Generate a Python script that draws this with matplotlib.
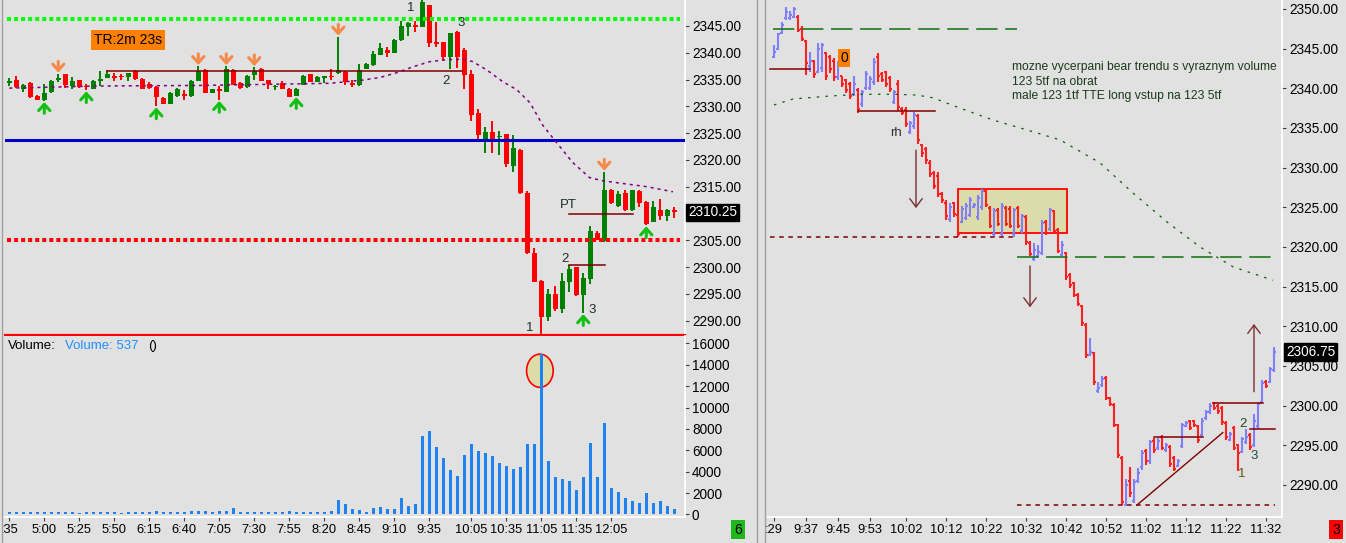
import matplotlib
matplotlib.use('Agg')
import matplotlib.pyplot as plt
from matplotlib.patches import Rectangle, Ellipse
from matplotlib.lines import Line2D
from matplotlib.transforms import blended_transform_factory

plt.rcParams['font.family'] = ['Liberation Sans', 'DejaVu Sans']

W, H = 1346, 543
BG = '#E1E1E1'
UP_C = '#008000'
DN_C = '#FF0000'
UP_B = '#8080FF'
DN_B = '#FF2020'
LEVEL = '#800000'
ARROW_BR = '#7A2E2E'
TXT = '#1E2E2E'

# ---------------------------------------------------------------- left chart
c_open = [2334.5, 2334.9, 2333.3, 2334.3, 2332.0, 2331.2, 2332.6, 2335.0, 2336.0, 2333.8,
          2334.9, 2333.8, 2333.3, 2334.7, 2335.3, 2335.6, 2335.7, 2335.4, 2336.6, 2335.1,
          2334.1, 2333.6, 2331.6, 2330.5, 2331.9, 2332.2, 2331.9, 2334.8, 2336.8, 2332.5,
          2333.3, 2332.7, 2336.8, 2334.4, 2333.6, 2335.9, 2337.0, 2334.9, 2333.6, 2334.4,
          2333.3, 2332.0, 2334.0, 2336.0, 2334.6, 2335.4, 2335.7, 2336.2, 2336.5, 2334.3,
          2333.9, 2337.0, 2337.7, 2339.6, 2340.5, 2340.0, 2342.3, 2344.9, 2345.1, 2344.9,
          2348.9, 2342.0, 2342.0, 2339.3, 2343.8, 2340.5, 2336.1, 2328.7, 2323.6, 2325.2,
          2324.3, 2324.8, 2318.8, 2321.9, 2313.9, 2302.6, 2297.4, 2290.6, 2294.9, 2292.2,
          2297.2, 2300.0, 2294.7, 2297.8, 2306.4, 2304.8, 2314.4, 2311.4, 2313.9, 2310.6,
          2314.2, 2312.1, 2308.5, 2310.7, 2309.5, 2310.6]
c_high = [2335.2, 2335.7, 2334.1, 2334.5, 2332.1, 2334.2, 2334.9, 2336.1, 2336.1, 2335.5,
          2335.0, 2334.2, 2334.9, 2336.6, 2336.8, 2336.2, 2336.0, 2336.3, 2336.7, 2335.2,
          2334.5, 2333.8, 2331.7, 2332.6, 2333.4, 2333.0, 2334.9, 2337.5, 2336.9, 2333.3,
          2333.8, 2337.5, 2336.9, 2334.5, 2335.9, 2337.3, 2337.1, 2335.0, 2334.0, 2334.8,
          2333.4, 2333.4, 2335.8, 2336.1, 2335.6, 2335.7, 2337.0, 2343.0, 2336.6, 2334.9,
          2337.9, 2338.0, 2340.4, 2341.9, 2341.1, 2342.5, 2345.9, 2345.7, 2345.9, 2349.9,
          2349.0, 2345.8, 2342.1, 2343.7, 2344.1, 2340.8, 2336.8, 2329.5, 2326.2, 2327.3,
          2325.4, 2324.9, 2324.7, 2322.0, 2314.2, 2303.6, 2297.5, 2295.9, 2296.4, 2298.8,
          2300.4, 2300.1, 2298.8, 2307.6, 2306.7, 2317.8, 2314.6, 2314.2, 2314.3, 2314.4,
          2314.3, 2312.4, 2312.3, 2312.7, 2310.8, 2311.2]
c_low = [2333.8, 2333.4, 2332.6, 2331.6, 2331.1, 2331.0, 2332.4, 2334.5, 2333.5, 2333.3,
         2333.5, 2333.0, 2333.2, 2333.8, 2335.2, 2334.8, 2335.0, 2334.7, 2335.0, 2333.2,
         2333.3, 2330.0, 2330.4, 2330.4, 2331.8, 2331.2, 2331.8, 2334.7, 2332.4, 2332.4,
         2331.2, 2332.6, 2333.9, 2333.3, 2333.5, 2335.0, 2334.7, 2333.3, 2333.0, 2333.2,
         2331.7, 2331.9, 2333.9, 2334.5, 2334.5, 2334.3, 2335.0, 2336.1, 2334.0, 2333.6,
         2333.8, 2336.9, 2337.6, 2339.5, 2339.2, 2339.9, 2342.2, 2343.1, 2343.8, 2344.8,
         2341.0, 2341.0, 2338.6, 2336.9, 2337.2, 2333.2, 2327.3, 2323.3, 2321.2, 2321.2,
         2321.0, 2318.6, 2317.8, 2313.7, 2302.5, 2297.2, 2287.4, 2290.0, 2291.8, 2291.5,
         2295.3, 2294.6, 2291.4, 2296.9, 2305.0, 2304.7, 2311.8, 2311.3, 2310.5, 2310.5,
         2311.2, 2307.8, 2308.4, 2308.7, 2308.6, 2309.2]
c_close = [2334.6, 2333.6, 2334.0, 2331.8, 2331.2, 2332.5, 2334.7, 2335.1, 2334.0, 2334.7,
           2333.6, 2333.6, 2334.7, 2335.1, 2336.0, 2335.4, 2335.5, 2336.2, 2335.1, 2333.3,
           2333.4, 2331.8, 2330.5, 2332.5, 2333.3, 2332.0, 2334.7, 2336.6, 2332.5, 2333.2,
           2332.9, 2337.0, 2334.0, 2333.4, 2335.7, 2336.6, 2334.8, 2334.2, 2333.8, 2333.3,
           2331.8, 2333.3, 2335.7, 2334.6, 2335.5, 2335.6, 2335.5, 2336.8, 2334.5, 2334.1,
           2336.8, 2337.9, 2339.8, 2340.9, 2339.9, 2342.4, 2345.0, 2345.6, 2344.9, 2349.4,
           2341.9, 2341.6, 2339.3, 2343.6, 2339.3, 2335.9, 2328.3, 2324.6, 2325.2, 2323.9,
           2324.4, 2319.2, 2322.3, 2313.8, 2302.6, 2297.3, 2290.6, 2294.9, 2292.1, 2297.4,
           2299.7, 2294.7, 2298.0, 2306.8, 2305.1, 2314.4, 2311.9, 2313.7, 2310.6, 2314.3,
           2311.9, 2308.0, 2311.3, 2309.6, 2310.7, 2310.2]
volume = [220, 280, 220, 190, 190, 220, 280, 220, 220, 220,
          160, 190, 190, 190, 190, 190, 160, 190, 190, 190,
          190, 340, 250, 190, 190, 220, 310, 340, 310, 250,
          310, 340, 590, 250, 250, 250, 280, 250, 220, 190,
          310, 280, 250, 220, 190, 190, 340, 1400, 1000, 470,
          410, 220, 590, 690, 500, 500, 1530, 840, 970, 7340,
          7810, 6310, 5310, 4160, 3630, 5560, 6590, 5940, 5720, 5470,
          4780, 4530, 4280, 4470, 6590, 6590, 15000, 5000, 3530, 3310,
          3120, 2280, 3500, 6690, 3500, 8560, 2470, 2090, 1530, 1250,
          1060, 2000, 1090, 1280, 780, 500]

left_tick_bars = [0, 5, 10, 15, 20, 25, 30, 35, 40, 45, 50, 55, 60, 66, 71, 76, 81, 86]
left_tick_labels = [':35', '5:00', '5:25', '5:50', '6:15', '6:40', '7:05', '7:30', '7:55',
                    '8:20', '8:45', '9:10', '9:35', '10:05', '10:35', '11:05', '11:35', '12:05']
left_price_ticks = [2290, 2295, 2300, 2305, 2315, 2320, 2325, 2330, 2335, 2340, 2345]

ma_left_bars = [0, 13, 27.2, 45.8, 50.5, 53, 55.4, 57.7, 60.1, 62.5, 64.8, 66.2, 68.2,
                70.5, 72.5, 74.4, 76.2, 78.2, 80.5, 82.9, 84.8, 88.2, 91.1, 94.8]
ma_left_vals = [2333.4, 2333.8, 2333.9, 2334.3, 2334.9, 2335.4, 2336.3, 2337.4, 2338.35,
                2338.7, 2338.8, 2338.35, 2336.8, 2334.6, 2333.1, 2330.65, 2326.5, 2323.2,
                2319.5, 2316.7, 2316.1, 2315.5, 2315.0, 2314.05]

sell_arrow_bars = [7, 27, 31, 35, 47, 85]
buy_arrow_bars = [5, 11, 21, 30, 41, 82, 91]

# --------------------------------------------------------------- right chart
r_open = [2344.0, 2345.0, 2347.0, 2348.8, 2348.8, 2349.0, 2349.0, 2347.5, 2346.0, 2342.8,
          2343.4, 2342.0, 2342.5, 2344.4, 2344.0, 2343.5, 2341.4, 2341.5, 2341.0, 2340.5,
          2339.3, 2339.8, 2338.0, 2340.0, 2340.0, 2340.8, 2344.0, 2341.8, 2342.0, 2341.3,
          2338.3, 2340.6, 2337.4, 2337.3, 2334.5, 2335.3, 2336.5, 2332.8, 2332.3, 2330.6,
          2329.3, 2329.0, 2326.7, 2325.6, 2323.5, 2325.5, 2324.0, 2323.2, 2323.6, 2324.0,
          2325.0, 2323.8, 2325.0, 2327.1, 2324.9, 2321.6, 2324.6, 2321.6, 2324.9, 2324.8,
          2321.6, 2324.9, 2322.0, 2323.8, 2320.5, 2318.5, 2318.8, 2319.3, 2323.2, 2322.3,
          2324.5, 2322.1, 2319.0, 2319.2, 2316.5, 2315.4, 2314.0, 2312.5, 2310.2, 2306.4,
          2306.6, 2301.8, 2302.6, 2303.5, 2301.0, 2300.1, 2297.5, 2293.4, 2287.5, 2290.5,
          2288.0, 2290.5, 2292.2, 2294.3, 2293.0, 2295.6, 2294.6, 2296.0, 2294.4, 2294.8,
          2293.4, 2292.4, 2294.9, 2297.4, 2298.0, 2298.0, 2297.4, 2296.3, 2298.4, 2299.2,
          2300.3, 2300.0, 2299.7, 2297.8, 2295.7, 2297.2, 2295.0, 2294.2, 2295.4, 2296.3,
          2295.0, 2297.4, 2300.5, 2303.0, 2303.0, 2304.5]
r_high = [2345.5, 2347.0, 2348.4, 2350.2, 2349.7, 2350.3, 2349.2, 2347.8, 2346.1, 2344.6,
          2343.6, 2345.7, 2345.7, 2344.6, 2344.2, 2343.8, 2343.4, 2341.6, 2341.2, 2340.8,
          2341.6, 2340.0, 2339.8, 2342.2, 2341.6, 2343.8, 2344.4, 2342.0, 2342.2, 2341.6,
          2339.8, 2341.0, 2337.6, 2337.6, 2335.9, 2337.0, 2336.8, 2333.0, 2332.6, 2330.9,
          2329.6, 2329.4, 2326.9, 2325.9, 2325.5, 2325.7, 2324.2, 2325.1, 2325.5, 2326.3,
          2325.5, 2326.6, 2327.3, 2327.3, 2325.1, 2324.9, 2324.9, 2325.5, 2325.1, 2325.1,
          2324.9, 2325.1, 2324.2, 2324.0, 2320.7, 2320.5, 2320.2, 2323.4, 2323.4, 2324.9,
          2324.7, 2322.4, 2320.7, 2319.4, 2316.7, 2315.6, 2314.2, 2312.7, 2310.4, 2308.5,
          2306.8, 2303.0, 2303.7, 2303.7, 2301.1, 2300.3, 2297.7, 2293.6, 2290.8, 2292.3,
          2290.8, 2292.1, 2294.4, 2294.5, 2295.7, 2295.9, 2295.9, 2296.3, 2295.3, 2295.0,
          2293.6, 2293.3, 2297.8, 2298.0, 2298.2, 2298.2, 2297.6, 2298.4, 2299.5, 2300.3,
          2300.4, 2300.2, 2299.9, 2298.0, 2296.7, 2297.4, 2295.2, 2296.1, 2297.0, 2296.5,
          2299.0, 2300.5, 2303.2, 2303.2, 2304.9, 2307.4]
r_low = [2343.8, 2344.8, 2346.9, 2348.6, 2348.6, 2348.8, 2347.1, 2345.9, 2341.7, 2342.1,
         2341.3, 2341.9, 2342.1, 2341.0, 2341.9, 2340.9, 2341.0, 2340.2, 2339.4, 2338.6,
         2339.0, 2336.9, 2337.7, 2339.8, 2339.8, 2340.4, 2340.8, 2340.8, 2340.2, 2339.5,
         2338.0, 2337.2, 2336.6, 2335.1, 2334.2, 2334.9, 2333.0, 2331.4, 2330.5, 2328.8,
         2327.3, 2326.3, 2325.5, 2323.4, 2323.2, 2323.8, 2321.3, 2323.0, 2323.4, 2323.8,
         2324.9, 2323.4, 2324.7, 2325.0, 2322.4, 2321.3, 2322.6, 2321.3, 2322.6, 2322.4,
         2321.3, 2322.4, 2321.7, 2320.3, 2318.8, 2318.2, 2318.6, 2319.0, 2321.5, 2322.0,
         2321.7, 2319.2, 2318.8, 2315.8, 2314.8, 2313.7, 2312.5, 2310.0, 2306.0, 2306.2,
         2302.6, 2301.6, 2302.4, 2300.7, 2299.9, 2297.3, 2293.4, 2287.5, 2287.3, 2288.5,
         2287.7, 2290.2, 2291.9, 2292.5, 2292.7, 2294.0, 2294.4, 2294.4, 2294.2, 2292.3,
         2291.7, 2292.3, 2294.6, 2297.3, 2296.9, 2297.3, 2295.3, 2296.1, 2298.2, 2299.0,
         2299.5, 2299.0, 2297.6, 2295.7, 2295.5, 2294.4, 2291.8, 2294.0, 2295.2, 2294.4,
         2294.8, 2297.1, 2300.3, 2302.2, 2302.8, 2304.3]
r_close = [2344.6, 2346.8, 2348.0, 2349.6, 2349.3, 2350.0, 2347.4, 2346.2, 2343.2, 2343.4,
           2341.8, 2345.0, 2345.5, 2341.5, 2342.4, 2341.4, 2343.0, 2340.6, 2339.8, 2339.0,
           2340.6, 2337.4, 2339.5, 2341.8, 2341.2, 2343.3, 2341.5, 2341.0, 2340.5, 2339.9,
           2339.5, 2337.6, 2336.9, 2335.5, 2335.6, 2336.6, 2333.5, 2331.8, 2330.9, 2329.2,
           2327.7, 2326.7, 2325.9, 2323.9, 2325.0, 2324.2, 2321.6, 2324.8, 2325.2, 2325.9,
           2325.3, 2326.2, 2327.0, 2325.3, 2322.7, 2324.5, 2322.9, 2325.1, 2322.9, 2322.6,
           2324.6, 2322.7, 2323.9, 2320.6, 2319.1, 2319.6, 2319.4, 2323.0, 2321.8, 2324.6,
           2322.0, 2319.5, 2320.2, 2316.2, 2315.2, 2314.0, 2312.8, 2310.4, 2306.4, 2306.8,
           2303.0, 2302.2, 2303.4, 2301.0, 2300.2, 2297.6, 2293.8, 2287.8, 2290.0, 2289.0,
           2290.4, 2291.5, 2294.0, 2293.0, 2295.4, 2294.4, 2295.5, 2294.7, 2295.0, 2292.7,
           2292.0, 2293.0, 2297.5, 2297.8, 2297.2, 2297.5, 2295.7, 2298.0, 2299.2, 2300.0,
           2299.7, 2299.3, 2297.9, 2296.0, 2296.4, 2294.7, 2294.0, 2295.8, 2296.0, 2294.8,
           2298.0, 2300.2, 2302.8, 2302.5, 2304.6, 2306.75]

ma_right_bars = [0, 4.75, 13.25, 21.5, 29.75, 35.75, 39.75, 46.5, 54.75, 63.25, 71.5,
                 81.5, 89.75, 98.25, 106.5, 114.75, 124.75]
ma_right_vals = [2337.9, 2338.65, 2339.0, 2339.25, 2339.25, 2339.15, 2338.8, 2337.5, 2336.0,
                 2334.75, 2333.5, 2330.6, 2326.8, 2323.15, 2320.0, 2317.5, 2315.8]

right_tick_bars = [0, 8, 16, 24, 33, 43, 53, 63, 73, 83, 93, 103, 113, 123]
right_tick_labels = [':29', '9:37', '9:45', '9:53', '10:02', '10:12', '10:22', '10:32',
                     '10:42', '10:52', '11:02', '11:12', '11:22', '11:32']
right_price_ticks = [2290, 2295, 2300, 2305, 2310, 2315, 2320, 2325, 2330, 2335, 2340,
                     2345, 2350]

note_lines = ['mozne vycerpani bear trendu s vyraznym volume',
              '123 5tf na obrat',
              'male 123 1tf TTE long vstup na 123 5tf']


def fbox(x0, y0, x1, y1):
    return [x0 / W, 1 - y1 / H, (x1 - x0) / W, (y1 - y0) / H]


def fxy(px, py):
    return px / W, 1 - py / H


def style(ax):
    ax.set_facecolor(BG)
    ax.spines['top'].set_visible(False)
    ax.spines['left'].set_visible(False)
    for s in ('right', 'bottom'):
        ax.spines[s].set_color('white')
        ax.spines[s].set_linewidth(1.3)
    ax.yaxis.tick_right()
    ax.tick_params(colors='#404040', labelcolor='black', labelsize=9.3,
                   length=3, width=0.8, pad=2)
    ax.tick_params(axis='y', labelsize=9.8)


def arrow(ax, x, y0, y1, color, lw, hl, hw, ms):
    ax.annotate('', xy=(x, y1), xytext=(x, y0),
                arrowprops=dict(arrowstyle='->,head_length=%s,head_width=%s' % (hl, hw),
                                color=color, lw=lw, shrinkA=0, shrinkB=0,
                                mutation_scale=ms),
                zorder=5)


def hline(ax, y, x0, x1, **kw):
    ax.plot([x0, x1], [y, y], **kw)


fig = plt.figure(figsize=(W / 100, H / 100), dpi=100, facecolor=BG)
ax_p = fig.add_axes(fbox(5, 0, 685, 336))
ax_v = fig.add_axes(fbox(5, 336, 685, 517), sharex=ax_p)
ax_r = fig.add_axes(fbox(768, 0, 1282, 517))
for ax in (ax_p, ax_v, ax_r):
    style(ax)
ax_p.spines['bottom'].set_visible(False)
ax_p.tick_params(axis='x', bottom=False, labelbottom=False)

# candles
n = len(c_open)
idx = list(range(n))
cols, bottoms, heights = [], [], []
for i in idx:
    o, h, l, c = c_open[i], c_high[i], c_low[i], c_close[i]
    col = UP_C if c >= o else DN_C
    cols.append(col)
    ax_p.vlines(i, l, h, color=col, lw=1.4, zorder=2)
    lo, hi = min(o, c), max(o, c)
    if hi - lo < 0.3:
        mid = (hi + lo) / 2
        lo, hi = mid - 0.15, mid + 0.15
    bottoms.append(lo)
    heights.append(hi - lo)
ax_p.bar(idx, heights, bottom=bottoms, width=0.74, color=cols, linewidth=0, zorder=2)

dots = (0, (1, 0.75))
hline(ax_p, 2346.3, -0.3, 95.8, color='#00FF00', lw=2.9, ls=dots, zorder=3)
hline(ax_p, 2323.75, -0.6, 96.5, color='#0000C8', lw=2.2, zorder=3)
hline(ax_p, 2305.0, -0.3, 95.8, color='#FF0000', lw=2.9, ls=dots, zorder=3)
hline(ax_p, 2287.25, -0.6, 96.5, color='#FF0000', lw=1.6, zorder=3, clip_on=False)
hline(ax_p, 2336.6, 13.96, 64.67, color=LEVEL, lw=1.1, zorder=3)
hline(ax_p, 2309.9, 80, 89.05, color=LEVEL, lw=1.1, zorder=3)
hline(ax_p, 2300.3, 80, 85.1, color=LEVEL, lw=1.1, zorder=3)
ax_p.plot(ma_left_bars, ma_left_vals, color='#800080', lw=1.1, ls=(0, (2, 2.6)), zorder=3)

for i in sell_arrow_bars:
    tip = c_high[i] + 0.2
    arrow(ax_p, i, tip + 2.1, tip, '#F58A4B', 2.2, 0.5, 0.45, 9)
for i in buy_arrow_bars:
    tip = c_low[i] - 0.2
    arrow(ax_p, i, tip - 2.1, tip, '#12C012', 2.2, 0.5, 0.45, 9)

for label, bx, py in [('1', 57.4, 2348.4), ('3', 64.5, 2345.6), ('2', 62.4, 2334.8),
                      ('1', 74.4, 2288.7), ('2', 79.4, 2301.5), ('3', 83.3, 2291.9),
                      ('PT', 79.8, 2311.5)]:
    ax_p.text(bx, py, label, fontsize=9.5, color=TXT, ha='center', va='center', zorder=6)

ax_p.set_xlim(-0.614, 96.53)
ax_p.set_ylim(2287.13, 2349.85)
ax_p.set_yticks(left_price_ticks)
ax_p.set_yticklabels(['%.2f' % v for v in left_price_ticks])

# volume
ax_v.add_patch(Ellipse((75.8, 13450), 3.8, 3100, facecolor='#DCDCA8',
                       edgecolor='#FF0000', lw=1.2, zorder=1))
ax_v.bar(idx, volume, width=0.36, color='#1E82F0', linewidth=0, zorder=2)
ax_v.set_ylim(-234, 16700)
ax_v.set_yticks(range(0, 16001, 2000))
ax_v.set_yticklabels([str(v) for v in range(0, 16001, 2000)])
ax_v.set_xticks(left_tick_bars)
ax_v.set_xticklabels(left_tick_labels)

tr = blended_transform_factory(ax_p.transAxes, ax_p.transData)
ax_p.text(1.0045, c_close[-1] + 0.05, '2310.25', transform=tr, color='white', fontsize=9.8,
          ha='left', va='center', bbox=dict(boxstyle='square,pad=0.12', fc='black', ec='black'))

# ---------------------------------------------------------------- right chart
m = len(r_open)
for j in range(m):
    o, h, l, c = r_open[j], r_high[j], r_low[j], r_close[j]
    col = UP_B if c >= o else DN_B
    ax_r.vlines(j, l, h, color=col, lw=1.5, zorder=2)
    ax_r.hlines(o, j - 0.45, j, color=col, lw=1.5, zorder=2)
    ax_r.hlines(c, j, j + 0.45, color=col, lw=1.5, zorder=2)

ax_r.add_patch(Rectangle((46.1, 2321.7), 27.1, 5.6, facecolor='#DCDCAA', edgecolor='#FF0000',
                         lw=1.3, zorder=1))
ax_r.plot(ma_right_bars, ma_right_vals, color='#0B5B0B', lw=0.9, ls=(0, (2, 5)), zorder=3)

long_dash = (0, (14, 5))
hline(ax_r, 2347.5, -0.25, 60.75, color='#107010', lw=1.1, ls=long_dash, zorder=3)
hline(ax_r, 2318.7, 60.7, 125.25, color='#107010', lw=1.1, ls=long_dash, zorder=3)
hline(ax_r, 2321.2, -1.0, 60.75, color=LEVEL, lw=1.1, ls=(0, (3, 3)), zorder=3)
hline(ax_r, 2287.45, 60.7, 125.25, color=LEVEL, lw=1.1, ls=(0, (3, 3)), zorder=3)
hline(ax_r, 2342.4, -1.0, 9.0, color=LEVEL, lw=1.1, zorder=3)
hline(ax_r, 2337.1, 21.0, 40.25, color=LEVEL, lw=1.1, zorder=3)
hline(ax_r, 2296.0, 95.0, 107.2, color=LEVEL, lw=1.1, zorder=3)
hline(ax_r, 2300.3, 110.0, 122.2, color=LEVEL, lw=1.1, zorder=3)
hline(ax_r, 2297.0, 119.0, 125.25, color=LEVEL, lw=1.1, zorder=3)
ax_r.plot([90.7, 112.2], [2287.45, 2296.6], color=LEVEL, lw=1.0, zorder=3)

arrow(ax_r, 35.5, 2332.2, 2324.9, ARROW_BR, 1.0, 0.6, 0.45, 10)
arrow(ax_r, 64.0, 2317.6, 2312.4, ARROW_BR, 1.0, 0.6, 0.45, 10)
arrow(ax_r, 120.0, 2301.75, 2310.3, ARROW_BR, 1.0, 0.6, 0.45, 10)

ax_r.text(17.6, 2343.8, '0', fontsize=10, color='black', ha='center', va='center', zorder=6,
          bbox=dict(boxstyle='square,pad=0.15', fc='#FF8000', ec='none'))
ax_r.text(30.5, 2334.4, 'rh', fontsize=9.5, color='#303030', ha='center', va='center')
for label, bx, py, col in [('1', 117.0, 2291.4, '#5A5A10'), ('2', 117.2, 2297.7, '#1E4A1E'),
                           ('3', 120.1, 2293.7, '#1E4A4A')]:
    ax_r.text(bx, py, label, fontsize=9.5, color=col, ha='center', va='center')
for k, line in enumerate(note_lines):
    ax_r.text(59.5, 2342.7 - 1.85 * k, line, fontsize=8.7, color='#1C3A1C',
              ha='left', va='center')

ax_r.set_xlim(-1.5, 127)
ax_r.set_ylim(2285.96, 2351.13)
ax_r.set_yticks(right_price_ticks)
ax_r.set_yticklabels(['%.2f' % v for v in right_price_ticks])
ax_r.set_xticks(right_tick_bars)
ax_r.set_xticklabels(right_tick_labels)

tr_r = blended_transform_factory(ax_r.transAxes, ax_r.transData)
ax_r.text(1.008, r_close[-1], '2306.75', transform=tr_r, color='white', fontsize=9.8,
          ha='left', va='center', bbox=dict(boxstyle='square,pad=0.12', fc='black', ec='black'))

# ---------------------------------------------------------------- overlays
x, y = fxy(128, 40)
fig.text(x, y, 'TR:2m 23s', fontsize=10, color='black', ha='center', va='center',
         bbox=dict(boxstyle='square,pad=0.2', fc='#FF8000', ec='none'))
x, y = fxy(8, 346)
fig.text(x, y, 'Volume:', fontsize=9.5, color='black', va='center')
x, y = fxy(65, 346)
fig.text(x, y, 'Volume: 537', fontsize=9.5, color='#1E90FF', va='center')
x, y = fxy(148, 346)
fig.text(x, y, '()', fontsize=9.5, color='black', va='center')

x, y = fxy(738, 529.5)
fig.text(x, y, '6', fontsize=10, color='black', ha='center', va='center',
         bbox=dict(boxstyle='square,pad=0.2', fc='#1EB81E', ec='none'))
x, y = fxy(1336, 529.5)
fig.text(x, y, '3', fontsize=10, color='black', ha='center', va='center',
         bbox=dict(boxstyle='square,pad=0.2', fc='#FF0000', ec='none'))

for px in (2, 757, 765):
    fig.add_artist(Line2D([px / W, px / W], [0, 1], color='#A0A0A0', lw=1.0))

fig.savefig('out.png', dpi=100, facecolor=BG)
